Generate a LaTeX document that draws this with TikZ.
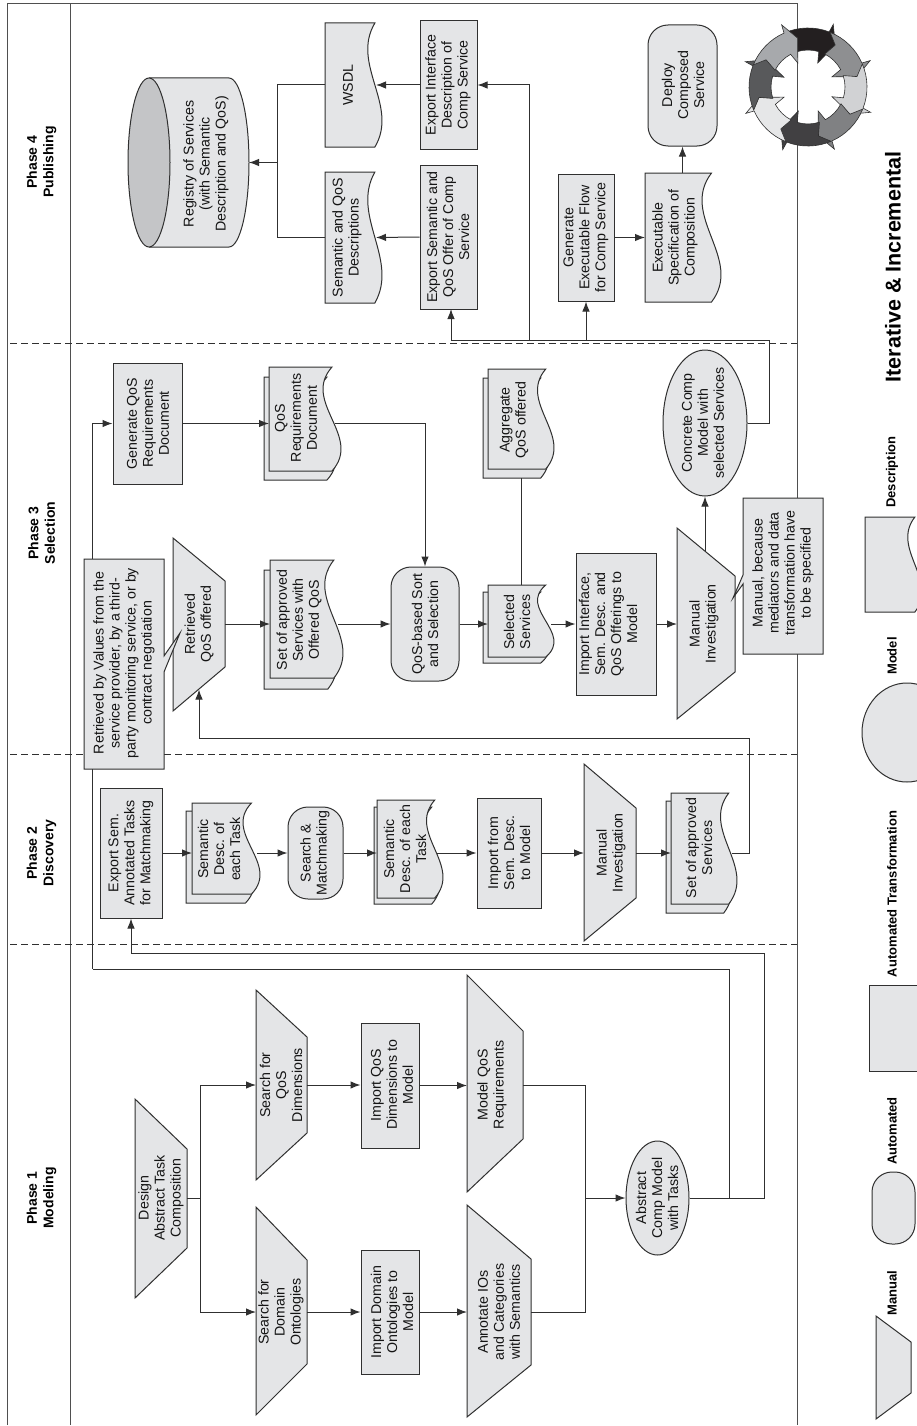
\documentclass[tikz,border=0pt]{standalone}
\usepackage{fontspec}
\setmainfont{Liberation Sans}
\usetikzlibrary{arrows.meta,shapes.geometric}
\definecolor{ink}{HTML}{303030}
\definecolor{boxfill}{HTML}{E4E5E7}
\definecolor{cyltop}{HTML}{C4C5C7}
\tikzset{
  shp/.style={draw=ink,fill=boxfill,line width=1pt,line join=miter},
  lbl/.style={rotate=90,align=center,inner sep=0pt,text=black!92,font=\fontsize{14.2}{16}\selectfont},
  phaselbl/.style={rotate=90,align=center,inner sep=0pt,text=black,font=\bfseries\fontsize{14}{16.5}\selectfont},
  leglbl/.style={rotate=90,inner sep=0pt,text=black,font=\bfseries\fontsize{13}{15}\selectfont},
  anchorbox/.style={inner sep=0pt,outer sep=0pt,draw=none},
  conn/.style={draw=ink,line width=1pt},
  arr/.style={conn,-{Latex[length=10pt,width=7.5pt]}},
  dashline/.style={draw=ink,line width=1pt,dash pattern=on 7pt off 4pt},
  ringarrow/.style={draw=ink,line width=0.6pt,line join=miter}
}
\newcommand{\procbox}[7]{%
  \node[shp,inner sep=0pt,minimum width={(#4-#2)*1pt},minimum height={(#5-#3)*1pt}] (#1) at ({(#2+#4)/2},{(#3+#5)/2}) {};
  \node[lbl] (#1-t) at (#6) {#7};}
\newcommand{\roundbox}[7]{%
  \node[shp,inner sep=0pt,rounded corners=20pt,minimum width={(#4-#2)*1pt},minimum height={(#5-#3)*1pt}] (#1) at ({(#2+#4)/2},{(#3+#5)/2}) {};
  \node[lbl] (#1-t) at (#6) {#7};}
\newcommand{\ellbox}[7]{%
  \node[shp,ellipse,inner sep=0pt,minimum width={(#4-#2)*1pt},minimum height={(#5-#3)*1pt}] (#1) at ({(#2+#4)/2},{(#3+#5)/2}) {};
  \node[lbl] (#1-t) at (#6) {#7};}
\newcommand{\docpath}[4]{%
  \pgfmathsetmacro{\dA}{0.125*(#3-#1)}%
  \pgfmathsetmacro{\dE}{#3-\dA}%
  \pgfmathsetmacro{\dK}{3.46*\dA}%
  \pgfmathsetmacro{\dH}{#4-#2}%
  \draw[shp] (\dE,#2) -- (#1,#2) -- (#1,#4) -- (\dE,#4)
    .. controls ({\dE+\dK},{#2+2*\dH/3}) and ({\dE-\dK},{#2+\dH/3}) .. (\dE,#2) -- cycle;}
\newcommand{\docbox}[7]{%
  \docpath{#2}{#3}{#4}{#5}
  \node[anchorbox,minimum width={(#4-#2)*1pt},minimum height={(#5-#3)*1pt}] (#1) at ({(#2+#4)/2},{(#3+#5)/2}) {};
  \node[lbl] (#1-t) at (#6) {#7};}
\newcommand{\manualbox}[9]{%
  \draw[shp] (#2,#4) -- (#3,#6) -- (#3,#7) -- (#2,#5) -- cycle;
  \node[anchorbox,minimum width={(#3-#2)*1pt},minimum height={(#7-#6)*1pt}] (#1) at ({(#2+#3)/2},{(#6+#7)/2}) {};
  \node[lbl] (#1-t) at (#8) {#9};}
\begin{document}
\begin{tikzpicture}[x=1pt,y=-1pt]
\useasboundingbox (0,0) rectangle (917,1426);
\clip (0,0) rectangle (917,1426);
\fill[white] (0,0) rectangle (917,1426);
% frame
\coordinate (fa) at (7,1425);
\coordinate (fb) at (7,4);
\coordinate (fc) at (797.5,4);
\coordinate (fd) at (797.5,1425);
\coordinate (pa) at (70,4);
\coordinate (pb) at (70,1425);
\draw[draw=ink!85,line width=1pt] (fa) -- (fb) -- (fc) -- (fd);
\draw[draw=ink!85,line width=1pt] (pa) -- (pb);
\foreach \yy/\nm in {343/da,754/db,944/dc}{
  \coordinate (\nm1) at (10,\yy);
  \coordinate (\nm2) at (797,\yy);
  \draw[dashline] (\nm1) -- (\nm2);
}
% phase labels
\node[phaselbl] (ph4) at (41.5,162) {Phase 4\\Publishing};
\node[phaselbl] (ph3) at (41.5,533) {Phase 3\\Selection};
\node[phaselbl] (ph2) at (41.5,853) {Phase 2\\Discovery};
\node[phaselbl] (ph1) at (41.5,1198) {Phase 1\\Modeling};
% registry cylinder
\draw[shp] (149,78) -- (229,78) arc[start angle=90,end angle=-90,x radius=20pt,y radius=84.5pt] -- (149,247);
\draw[shp,fill=cyltop] (149,162.5) ellipse[x radius=21pt,y radius=84.5pt];
\node[anchorbox,minimum width=121pt,minimum height=169pt] (reg) at (188.5,162.5) {};
\node[lbl] (reg-t) at (206,164) {Registry of Services\\(with Semantic\\Description and QoS)};
% phase 4
\docbox{wsdl}{325}{23}{382}{147}{348,85}{WSDL}
\docbox{sqd}{325}{172}{382}{303}{347,237.5}{Semantic and QoS\\Descriptions}
\procbox{expI}{420}{21}{477}{149}{448,85}{Export Interface\\Description of\\Comp Service}
\procbox{expS}{420}{165}{477}{309}{448,237}{Export Semantic and\\QoS Offer of Comp\\Service}
\procbox{gen}{558}{174}{614}{301}{586,237.5}{Generate\\Executable Flow\\for Comp Service}
\docbox{spec}{645}{173}{721}{302}{675,237.5}{Executable\\Specification of\\Composition}
\roundbox{dep}{648}{25}{717}{146}{683,85}{Deploy\\Composed\\Service}
% phase 3
\procbox{genQ}{113}{363}{182}{484}{148,423.5}{Generate QoS\\Requirements\\Document}
\docpath{264}{377}{336}{480}
\docbox{qreq}{269}{367}{341}{471}{296,418}{QoS\\Requirements\\Document}
\manualbox{ret}{173}{225}{538}{711}{581}{667}{199,624}{Retrieved\\QoS offered}
\docpath{264}{570}{337}{689}
\docbox{setq}{270}{560}{343}{678}{299,620}{Set of approved\\Services with\\Offered QoS}
\roundbox{sort}{391}{567}{459}{681}{425,624}{QoS-based Sort\\and Selection}
\docpath{483}{592}{549}{663}
\docbox{sel}{488}{585}{554}{657}{517,622}{Selected\\Services}
\docpath{483}{378}{549}{478}
\docbox{agg}{488}{369}{554}{469}{514,420}{Aggregate\\QoS offered}
\procbox{impI}{576}{553}{656}{695}{608,624}{Import Interface,\\Sem. Desc. and\\QoS Offerings to\\Model}
\manualbox{mi}{677}{735}{528}{719}{576}{672}{704,624}{Manual\\Investigation}
\ellbox{con}{663}{350}{747}{496}{703,423}{Concrete Comp\\Model with\\selected Services}
% phase 2
\procbox{exA}{100}{788}{162}{918}{131,853}{Export Sem.\\Annotated Tasks\\for Matchmaking}
\docpath{186}{811}{254}{903}
\docbox{d1}{192}{803}{260}{894}{219,849}{Semantic\\Desc. of\\each Task}
\roundbox{sm}{288}{807}{343}{899}{315,853}{Search \&\\Matchmaking}
\docpath{374}{807}{440}{904}
\docbox{d2}{377}{800}{443}{898}{405,849}{Semantic\\Desc. of each\\Task}
\procbox{impF}{477}{798}{541}{908}{509,853}{Import from\\Sem. Desc.\\to Model}
\manualbox{mi2}{584}{636}{764}{941}{808}{898}{611,853}{Manual\\Investigation}
\docpath{666}{801}{732}{913}
\docbox{set2}{671}{793}{737}{904}{699,848}{Set of approved\\Services}
% phase 1
\manualbox{des}{135}{187}{1099}{1298}{1149}{1248}{161,1198}{Design\\Abstract Task\\Composition}
\manualbox{sq}{256}{307}{990}{1180}{1037}{1133}{281,1085}{Search for\\QoS\\Dimensions}
\manualbox{sd}{256}{307}{1207}{1415}{1260}{1364}{281,1312}{Search for\\Domain\\Ontologies}
\procbox{iq}{361}{1023}{419}{1148}{392,1085}{Import QoS\\Dimensions to\\Model}
\procbox{id}{361}{1250}{419}{1374}{392,1312}{Import Domain\\Ontologies to\\Model}
\manualbox{mq}{467}{523}{975}{1192}{1031}{1139}{492,1085}{Model QoS\\Requirements}
\manualbox{an}{467}{531}{1205}{1417}{1259}{1365}{499,1312}{Annotate IOs\\and Categories\\with Semantics}
\ellbox{abs}{626}{1141}{689}{1255}{657,1198}{Abstract\\Comp Model\\with Tasks}
% connectors: publishing
\coordinate (wsdlW) at (376,85);
\coordinate (sqdW) at (376,237.5);
\coordinate (jp) at (277.5,162.5);
\coordinate (bus) at (769,340);
\coordinate (busI) at (529,340);
\coordinate (busS) at (451,340);
\coordinate (expSin) at (451,309);
\draw[arr] (expI.west) -- (wsdlW);
\draw[arr] (expS.west) -- (sqdW);
\draw[conn] (wsdl.west) -| (jp);
\draw[conn] (sqd.west) -| (jp);
\draw[arr] (jp) -- (reg.east);
\draw[arr] (gen.east) -- (gen.east -| spec.west);
\draw[arr] (spec.north -| dep.south) -- (dep.south);
\draw[conn] (con.east) -| (bus) -- (busS);
\draw[arr] (busS) -- (expSin);
\draw[arr] (busI) |- (expI.east);
\draw[arr] (bus -| gen.south) -- (gen.south);
% connectors: selection
\coordinate (qrW) at (335,423.5);
\coordinate (stW) at (338,624);
\coordinate (seW) at (551,624);
\coordinate (miS) at (705,552);
\coordinate (retS) at (199,689.5);
\coordinate (s2W) at (732,853);
\coordinate (c5) at (749,738);
\draw[arr] (genQ.east) -- (genQ.east -| qreq.west);
\draw[arr] (qrW) -| (sort.north);
\draw[arr] (ret.east) -- (ret.east -| setq.west);
\draw[arr] (stW) -- (sort.west);
\draw[arr] (sort.east) -- (sort.east -| sel.west);
\draw[arr] (seW) -- (impI.west);
\draw[arr] (impI.east) -- (impI.east -| mi.west);
\draw[conn] ([yshift=-9pt]agg.south) -- (sel.north);
\draw[arr] (miS) -- (con.south);
\draw[arr] (s2W) -| (c5) -| (retS);
% connectors: discovery
\coordinate (d1W) at (257,853);
\coordinate (d2W) at (437,853);
\draw[arr] (exA.east) -- (exA.east -| d1.west);
\draw[arr] (d1W) -- (sm.west);
\draw[arr] (sm.east) -- (sm.east -| d2.west);
\draw[arr] (d2W) -- (impF.west);
\draw[arr] (impF.east) -- (impF.east -| mi2.west);
\draw[arr] (mi2.east |- impF.east) -- (impF.east -| set2.west);
% connectors: modeling
\coordinate (j1) at (200,1198.5);
\coordinate (j2) at (585,1198);
\coordinate (c1) at (764,953);
\coordinate (c2s) at (729,1198);
\coordinate (c2) at (729,969);
\coordinate (c3) at (92.5,969);
\draw[conn] (des.east) -- (j1);
\draw[arr] (j1) |- (sq.west);
\draw[arr] (j1) |- (sd.west);
\draw[arr] (sq.east) -- (iq.west |- sq.east);
\draw[arr] (sd.east) -- (id.west |- sd.east);
\draw[arr] (iq.east) -- (mq.west |- iq.east);
\draw[arr] (id.east) -- (an.west |- id.east);
\draw[conn] (mq.east) -| (j2);
\draw[conn] (an.east) -| (j2);
\draw[arr] (j2) -- (abs.west);
\draw[arr] (abs.east) -| (c1) -| (exA.south);
\draw[conn] (c2s) -- (c2) -- (c3);
\draw[arr] (c3) |- (genQ.west);
% callouts
\draw[shp] (84,559) -- (164,559) -- (164,656) -- (180,633) -- (164,672) -- (164,769) -- (84,769) -- cycle;
\node[lbl] (cal1) at (124,663) {Retrieved by Values from the\\service provider, by a third-\\party monitoring service, or by\\contract negotiation};
\draw[shp] (743,498) -- (823,498) -- (823,654) -- (743,654) -- (743,584) -- (733,598) -- (743,575) -- cycle;
\node[lbl] (cal2) at (783,573) {Manual, because\\mediators and data\\transformation have\\to be specified};
% cycle
\begin{scope}[shift={(808,87)}]
\foreach \ph/\col in {22/231F20,67/8E8F91,112/D1D2D4,157/808183,202/414042,247/E6E7E8,292/58595B,337/A7A9AC}{
  \pgfmathsetmacro{\aa}{90-\ph}
  \definecolor{ringcol}{HTML}{\col}
  \draw[ringarrow,fill=ringcol]
    (\aa+45:59pt) arc[start angle=\aa+45,end angle=\aa+1,radius=59pt]
    -- (\aa:67.5pt) -- (\aa-11:50pt) -- (\aa:26pt) -- (\aa+5:37pt)
    arc[start angle=\aa+5,end angle=\aa+40,radius=37pt]
    -- (\aa+34:50pt) -- cycle;
}
\end{scope}
% legend
\node[rotate=90,inner sep=0pt,text=black,font=\bfseries\fontsize{21.5}{24}\selectfont] (iter) at (893,267) {Iterative \& Incremental};
\manualbox{lm}{876}{911}{1316}{1419}{1342}{1393}{893,1367}{}
\node[leglbl] (lmt) at (892,1293) {Manual};
\roundbox{la}{872}{1172}{915}{1244}{893,1208}{}
\node[leglbl] (lat) at (892,1131) {Automated};
\procbox{lt}{869}{985}{940}{1071}{893,1028}{}
\node[leglbl] (ltt) at (892,894) {Automated Transformation};
\ellbox{lo}{862}{683}{952}{782}{893,732}{}
\node[leglbl] (lot) at (892,656) {Model};
\docbox{ld}{865}{517}{922}{612}{885,565}{}
\node[leglbl] (ldt) at (892,472) {Description};
\end{tikzpicture}
\end{document}
